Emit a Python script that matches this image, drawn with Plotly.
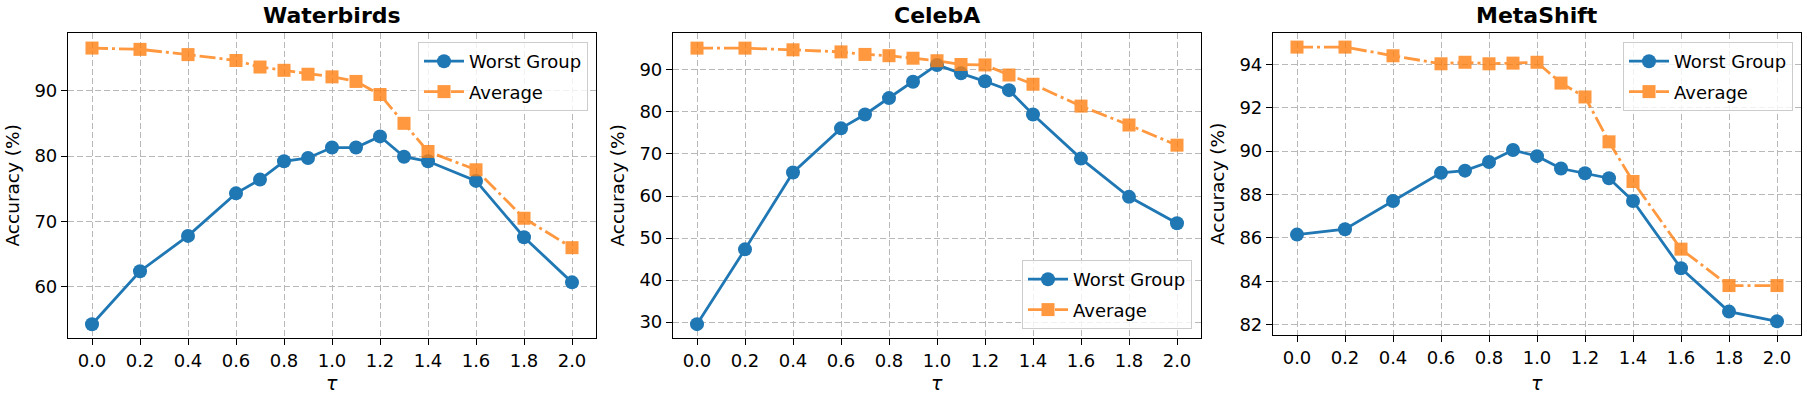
import plotly.graph_objects as go

tau = [0.0, 0.2, 0.4, 0.6, 0.7, 0.8, 0.9, 1.0, 1.1, 1.2, 1.3, 1.4, 1.6, 1.8, 2.0]
x_ticks = [0.0, 0.2, 0.4, 0.6, 0.8, 1.0, 1.2, 1.4, 1.6, 1.8, 2.0]

datasets = ["Waterbirds", "CelebA", "MetaShift"]

waterbirds_worst = [54.3, 62.4, 67.8, 74.3, 76.4, 79.2, 79.7, 81.3, 81.3, 83.0, 79.9, 79.2, 76.2, 67.6, 60.7]
waterbirds_avg = [96.5, 96.3, 95.5, 94.6, 93.6, 93.1, 92.5, 92.1, 91.4, 89.4, 85.0, 80.7, 77.9, 70.5, 66.0]

celeba_worst = [29.5, 47.3, 65.6, 76.1, 79.4, 83.3, 87.2, 91.2, 89.2, 87.3, 85.2, 79.4, 68.9, 59.8, 53.5]
celeba_avg = [95.2, 95.2, 94.8, 94.3, 93.7, 93.4, 92.8, 92.2, 91.3, 91.2, 88.8, 86.6, 81.4, 76.9, 72.1]

metashift_worst = [86.15, 86.4, 87.7, 89.0, 89.1, 89.5, 90.05, 89.77, 89.2, 88.98, 88.75, 87.7, 84.6, 82.6, 82.15]
metashift_avg = [94.8, 94.8, 94.4, 94.03, 94.1, 94.03, 94.06, 94.1, 93.14, 92.5, 90.43, 88.6, 85.48, 83.8, 83.8]

worst = [waterbirds_worst, celeba_worst, metashift_worst]
avg = [waterbirds_avg, celeba_avg, metashift_avg]
y_ranges = [[52.2, 98.8], [26.2, 98.8], [81.52, 95.45]]
y_dticks = [10, 10, 2]

W, H = 1807, 394
blue = "#1f77b4"
orange = "#ff7f0e"
font = "DejaVu Sans"

# axes boxes in pixels (left, right, top, bottom)
boxes = [(68, 596, 33, 338), (673, 1201, 33, 338), (1273, 1801, 33, 335)]

fig = go.Figure()
legend_names = ["legend", "legend2", "legend3"]

for i in range(3):
    xa = "x" if i == 0 else f"x{i+1}"
    ya = "y" if i == 0 else f"y{i+1}"
    fig.add_trace(go.Scatter(
        x=tau, y=worst[i], name="Worst Group", mode="lines+markers",
        line=dict(color=blue, width=2.8),
        marker=dict(symbol="circle", size=14, color=blue),
        legendgroup="worst",
        xaxis=xa, yaxis=ya, legend=legend_names[i]))
    fig.add_trace(go.Scatter(
        x=tau, y=avg[i], name="Average", mode="lines+markers",
        line=dict(color=orange, width=2.8, dash="16px,4px,3px,4px"),
        marker=dict(symbol="square", size=13, color=orange),
        opacity=0.8, legendgroup="avg",
        xaxis=xa, yaxis=ya, legend=legend_names[i]))

layout = dict(
    width=W, height=H,
    margin=dict(l=0, r=0, t=0, b=0),
    paper_bgcolor="white", plot_bgcolor="white",
    font=dict(family=font, size=18, color="black"),
    showlegend=True,
)

axis_common = dict(
    showline=True, linecolor="black", linewidth=1.2, mirror=True,
    ticks="outside", ticklen=6, tickwidth=1.2, tickcolor="black",
    showgrid=True, gridcolor="#b8b8b8", gridwidth=1, griddash="6px,3px",
    zeroline=False, tickfont=dict(size=18),
)

annotations = []
for i, (l, r, t, b) in enumerate(boxes):
    sfx = "" if i == 0 else str(i + 1)
    layout["xaxis" + sfx] = dict(
        axis_common,
        domain=[l / W, r / W], anchor="y" + sfx,
        range=[-0.1, 2.1], tickvals=x_ticks, tickformat=".1f",
    )
    layout["yaxis" + sfx] = dict(
        axis_common,
        domain=[1 - b / H, 1 - t / H], anchor="x" + sfx,
        range=y_ranges[i], dtick=y_dticks[i],
    )
    annotations.append(dict(
        text=f"<b>{datasets[i]}</b>", xref="paper", yref="paper",
        x=(l + r) / 2 / W, y=1 - 15 / H, xanchor="center", yanchor="middle",
        showarrow=False, font=dict(size=22, family=font)))
    annotations.append(dict(
        text="<i>τ</i>", xref="paper", yref="paper",
        x=(l + r) / 2 / W, y=1 - 383 / H, xanchor="center", yanchor="middle",
        showarrow=False, font=dict(size=19, family=font)))
    annotations.append(dict(
        text="Accuracy (%)", xref="paper", yref="paper", textangle=-90,
        x=(l - 56) / W, y=1 - (t + b) / 2 / H, xanchor="center", yanchor="middle",
        showarrow=False, font=dict(size=18.5, family=font)))

legend_common = dict(
    bgcolor="rgba(255,255,255,0.8)", bordercolor="#cccccc", borderwidth=1,
    font=dict(size=18), xref="paper", yref="paper",
    traceorder="grouped", tracegroupgap=4, itemwidth=40,
)
layout["legend"] = dict(legend_common, x=588 / W, y=1 - 42 / H, xanchor="right", yanchor="top")
layout["legend2"] = dict(legend_common, x=1192 / W, y=1 - 329 / H, xanchor="right", yanchor="bottom")
layout["legend3"] = dict(legend_common, x=1793 / W, y=1 - 42 / H, xanchor="right", yanchor="top")
layout["annotations"] = annotations

fig.update_layout(**layout)

# drop the default page margin so the figure sits at the window's corner
fig.write_html("out.html", config={"displayModeBar": False},
               post_script="document.body.style.margin='0';")
